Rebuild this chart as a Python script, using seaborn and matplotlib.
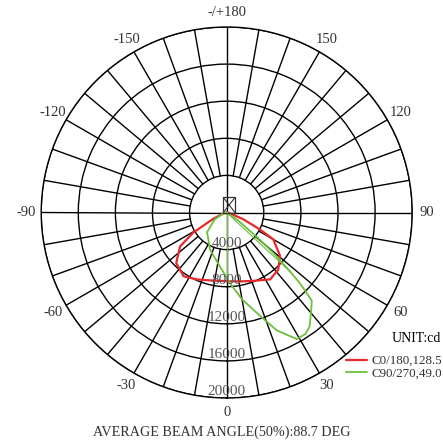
import numpy as np
import pandas as pd
import matplotlib.pyplot as plt
import seaborn as sns
from matplotlib.patches import Rectangle
from matplotlib.lines import Line2D

sns.set_theme(style="white")
plt.rcParams['font.family'] = ['Liberation Serif', 'DejaVu Serif']

# -----------------------------
# Data (angle in deg, 0 = nadir, + = towards 90)
# -----------------------------
c0_angle = [-90, -75, -65, -63, -59, -54, -45, -34, -24, -12, 0, 10, 21, 33, 42, 51, 60, 63, 68, 75, 90]
c0_cd = [0, 300, 1500, 2000, 4200, 6200, 7700, 8300, 7900, 7500, 7400, 7550, 7900, 8600, 8300, 7400, 5800, 4000, 1900, 300, 0]

c90_angle = [-90, -80, -60, -45, -40, -24, -7, 0, 3, 10, 17, 23, 29, 33, 36, 41, 44, 46, 47, 49, 51, 55, 60]
c90_cd = [0, 300, 1500, 3000, 3200, 4400, 5900, 7000, 7700, 9500, 11400, 13800, 15600, 15600, 15200, 13900, 13200, 11000, 9400, 6700, 4200, 1500, 0]

ring_values = [4000, 8000, 12000, 16000, 20000]
angle_labels = [0, 30, 60, 90, 120, 150, 180, -150, -120, -90, -60, -30]
legend_labels = ['C0/180,128.5', 'C90/270,49.0']
unit_text = 'UNIT:cd'
beam_text = 'AVERAGE BEAM ANGLE(50%):88.7 DEG'

red = '#e8282a'
green = '#6cbf3c'
txt = '#333333'
fs = 10.5

df_c0 = pd.DataFrame({'theta': np.deg2rad(c0_angle), 'cd': c0_cd})
df_c90 = pd.DataFrame({'theta': np.deg2rad(c90_angle), 'cd': c90_cd})

# -----------------------------
# Figure / polar axes
# -----------------------------
W, H = 443, 441
fig = plt.figure(figsize=(W / 100, H / 100), dpi=100)
cx, cy, R = 226.7, 212.5, 185.5
ax = fig.add_axes([(cx - R) / W, 1 - (cy + R) / H, 2 * R / W, 2 * R / H], projection='polar')
ax.set_theta_zero_location('S')
ax.set_theta_direction(1)
ax.set_ylim(0, 20000)
ax.set_facecolor('white')
ax.set_xticklabels([])
ax.set_yticks(ring_values)
ax.set_yticklabels([])
ax.xaxis.grid(False)
ax.yaxis.grid(True, color='black', linewidth=1.0)
ax.spines['polar'].set_color('black')
ax.spines['polar'].set_linewidth(1.0)

# spokes every 10 deg starting at first ring, axes lines through centre
for a in range(0, 360, 10):
    t = np.deg2rad(a)
    r0 = 0 if a % 90 == 0 else ring_values[0]
    ax.plot([t, t], [r0, 20000], color='black', lw=1.0, zorder=1)

# curves
sns.lineplot(data=df_c0, x='theta', y='cd', ax=ax, sort=False, estimator=None,
             color=red, lw=1.6, zorder=3, label=legend_labels[0])
sns.lineplot(data=df_c90, x='theta', y='cd', ax=ax, sort=False, estimator=None,
             color=green, lw=1.3, zorder=3, label=legend_labels[1])
# thin connecting lines of the C90 trace
ax.plot([0, np.deg2rad(c90_angle[7])], [0, c90_cd[7]], color=green, lw=0.8, zorder=3)
ax.plot([0, np.deg2rad(c90_angle[18])], [0, c90_cd[18]], color=green, lw=0.8, zorder=3)
ax.set_xlabel('')
ax.set_ylabel('')

# ring labels
for v in ring_values:
    ax.text(0, v - 650, str(v), ha='center', va='center', fontsize=fs + 0.5, color='#555555', zorder=4)

# angle labels
for a in angle_labels:
    lab = '-/+180' if a == 180 else str(a)
    ax.text(np.deg2rad(a), 21600, lab, ha='center', va='center', fontsize=fs,
            color=txt, clip_on=False)

# luminaire symbol
bx0, by0, bx1, by1 = 223.3, 197.5, 235.0, 212.5
fig.add_artist(Rectangle((bx0 / W, 1 - by1 / H), (bx1 - bx0) / W, (by1 - by0) / H,
                         fill=False, edgecolor='#333333', lw=0.9, transform=fig.transFigure))
fig.add_artist(Line2D([bx0 / W, bx1 / W], [1 - by0 / H, 1 - by1 / H], color='#333333', lw=0.8,
                      transform=fig.transFigure))
fig.add_artist(Line2D([bx0 / W, bx1 / W], [1 - by1 / H, 1 - by0 / H], color='#333333', lw=0.8,
                      transform=fig.transFigure))

# legend
handles, labels = ax.get_legend_handles_labels()
ax.legend_.remove()
fig.text(441 / W, 1 - 339 / H, unit_text, ha='right', va='center', fontsize=10, color='black')
fig.legend(handles, labels, loc='upper right', bbox_to_anchor=(442 / W, 1 - 355 / H),
           frameon=False, fontsize=9.4, handlelength=1.6, handletextpad=0.35,
           borderpad=0, borderaxespad=0, labelspacing=0.05, labelcolor=txt)

fig.text(222 / W, 1 - 432 / H, beam_text, ha='center', va='center', fontsize=10.2, color=txt)

fig.savefig('out.png', dpi=100, facecolor='white')
